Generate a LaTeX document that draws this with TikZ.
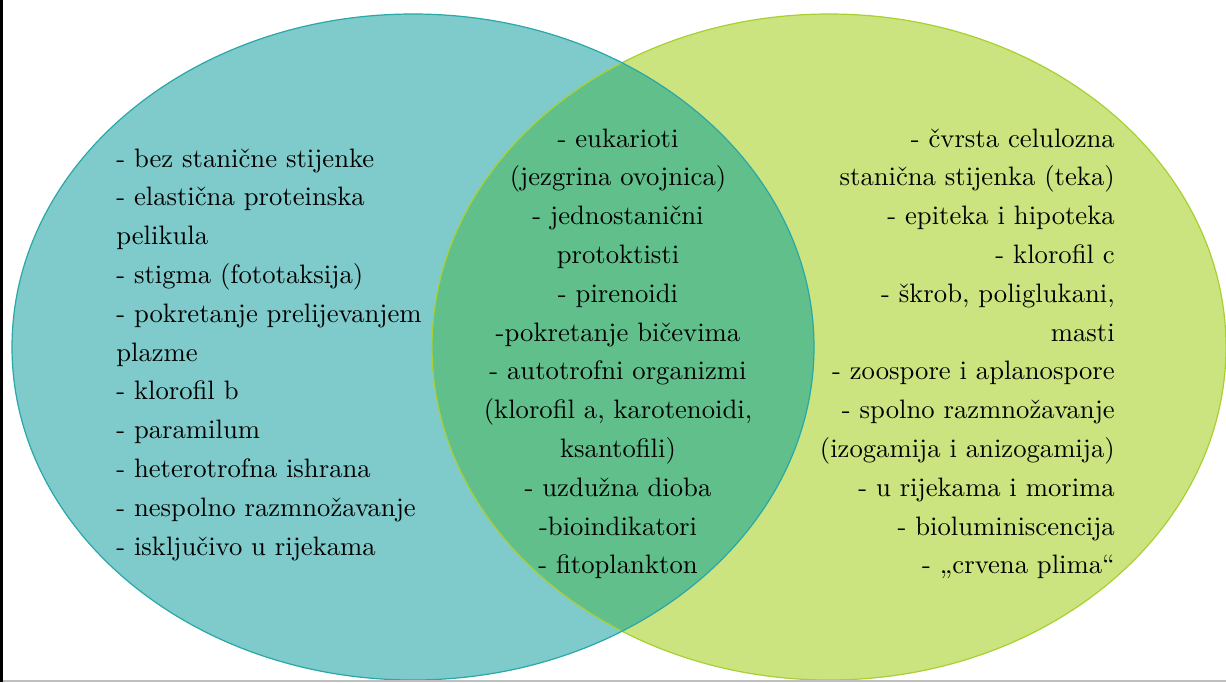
\documentclass[tikz,border=0pt]{standalone}
\usepackage{fontspec}
\newfontfamily\lmten{lmroman10-regular.otf}
\definecolor{tealfill}{RGB}{127,202,202}
\definecolor{tealedge}{RGB}{40,168,168}
\definecolor{limefill}{RGB}{203,228,127}
\definecolor{limeedge}{RGB}{168,208,50}
\definecolor{midfill}{RGB}{96,191,139}
\tikzset{
  txt/.style={inner sep=0pt, font=\lmten\fontsize{20}{29}\selectfont, text=black},
  ltxt/.style={txt, anchor=base west},
  ctxt/.style={txt, anchor=base},
  rtxt/.style={txt, anchor=base east}
}
\begin{document}
\begin{tikzpicture}[x=0.75pt,y=-0.75pt]
\useasboundingbox (0,0) rectangle (1226,682);
\begin{scope}
  \clip (0,0) rectangle (1226,680);
  \fill[limefill] (829,347) ellipse [x radius=397, y radius=333];
  \fill[tealfill] (413,347) ellipse [x radius=401, y radius=333];
  \begin{scope}
    \clip (829,347) ellipse [x radius=397, y radius=333];
    \fill[midfill] (413,347) ellipse [x radius=401, y radius=333];
  \end{scope}
  \draw[limeedge, line width=0.9pt] (829,347) ellipse [x radius=397, y radius=333];
  \draw[tealedge, line width=0.9pt] (413,347) ellipse [x radius=401, y radius=333];
\end{scope}
% frame lines
\fill[black] (0,0) rectangle (2.5,682);
\fill[black!25] (2.5,680) rectangle (1226,682);
% left texts
\foreach \t [count=\i] in {- bez stanične stijenke, - elastična proteinska, pelikula, - stigma (fototaksija), - pokretanje prelijevanjem, plazme, - klorofil b, - paramilum, - heterotrofna ishrana, - nespolno razmnožavanje, - isključivo u rijekama}
  \node[ltxt] (l\i) at (116,{167+(\i-1)*38.8}) {\t};
% centre texts
\foreach \t [count=\i] in {- eukarioti, (jezgrina ovojnica), - jednostanični, protoktisti, - pirenoidi, -pokretanje bičevima, - autotrofni organizmi, {(klorofil a, karotenoidi,}, ksantofili), - uzdužna dioba, -bioindikatori, - fitoplankton}
  \node[ctxt] (c\i) at (618,{147+(\i-1)*38.8}) {\t};
% right texts
\foreach \t [count=\i] in {- čvrsta celulozna, stanična stijenka (teka), - epiteka i hipoteka, - klorofil c, {- škrob, poliglukani,}, masti, - zoospore i aplanospore, - spolno razmnožavanje, (izogamija i anizogamija), - u rijekama i morima, - bioluminiscencija, - „crvena plima“}
  \node[rtxt] (r\i) at (1115,{147+(\i-1)*38.8}) {\t};
\end{tikzpicture}
\end{document}
